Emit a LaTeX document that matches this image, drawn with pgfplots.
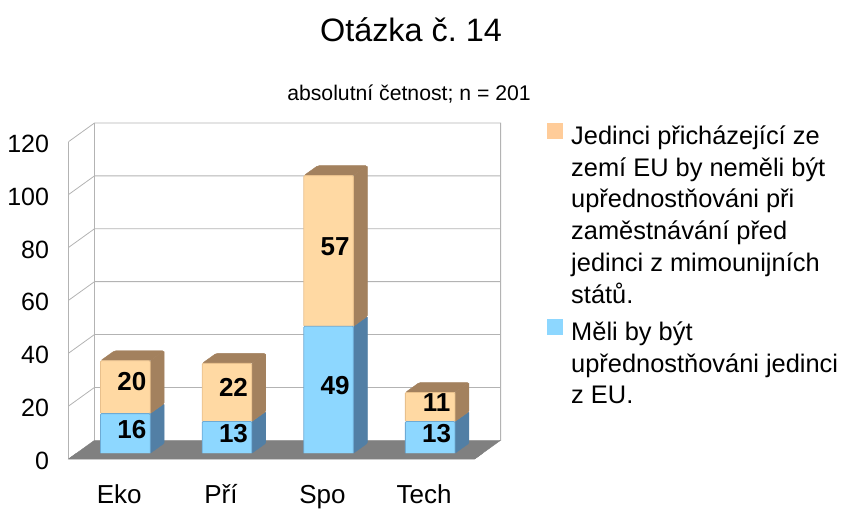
\documentclass[border=0pt]{standalone}
\usepackage{fontspec}
\setmainfont{Liberation Sans}
\usepackage{pgfplots}
\pgfplotsset{compat=1.18}
\frenchspacing
\definecolor{orF}{HTML}{FFD9A3}
\definecolor{orB}{HTML}{E8C08C}
\definecolor{orS}{HTML}{A3815E}
\definecolor{orL}{HTML}{FFCC99}
\definecolor{blF}{HTML}{8DD7FF}
\definecolor{blB}{HTML}{6DAAD4}
\definecolor{blS}{HTML}{527FA5}
\definecolor{gridc}{HTML}{B3B3B3}
\definecolor{floorc}{HTML}{808080}
\newcommand{\fs}[1]{\fontsize{#1pt}{#1pt}\selectfont}
\pgfplotsset{common/.style={
  at={(0pt,0pt)},anchor=south west,
  x=101.6pt,y=2.644pt,xmin=-0.5,xmax=3.753,
  axis line style={draw=none},clip=false,
  tick style={draw=none},xtick=\empty,ytick=\empty,
}}
% side face of one bar segment: category, low, high, colour
\newcommand{\seg}[5]{%
  \pgfmathsetmacro{\R}{#1+0.3035}%
  \pgfmathsetmacro{\Rb}{\R+0.138}%
  \pgfmathsetmacro{\lob}{#2+3.78}%
  \pgfmathsetmacro{\hib}{#3+3.78}%
  \addplot[fill=#4,draw=#4,line join=round,rounded corners=1pt] coordinates {(\R,#2)(\Rb,\lob)(\Rb,\hib)(\R,#3)} --cycle;
}
\newcommand{\topf}[3]{%
  \pgfmathsetmacro{\R}{#1+0.3035}%
  \pgfmathsetmacro{\Rb}{\R+0.138}%
  \pgfmathsetmacro{\Lf}{\R-0.488}%
  \pgfmathsetmacro{\Lb}{\Lf+0.138}%
  \pgfmathsetmacro{\hib}{#2+3.78}%
  \addplot[fill=#3,draw=#3,line join=round,rounded corners=1.5pt] coordinates {(\Lf,#2)(\Lb,\hib)(\Rb,\hib)(\R,#2)} --cycle;
}
\begin{document}
\begin{tikzpicture}
\path[use as bounding box] (-68.5pt,-49pt) rectangle (773.5pt,459pt);
% back wall, grid, floor
\begin{axis}[common,ymin=0,ymax=127.08]
\addplot[fill=floorc,draw=floorc] coordinates {(-0.5,0)(-0.244,7.08)(3.753,7.08)(3.497,0)} --cycle;
\addplot[gridc,line width=0.8pt] coordinates {(-0.5,120)(-0.244,127.08)(3.753,127.08)(3.753,7.08)};
\addplot[gridc,line width=0.8pt] coordinates {(-0.5,100)(-0.244,107.08)(3.753,107.08)};
\addplot[gridc,line width=0.8pt] coordinates {(-0.5,80)(-0.244,87.08)(3.753,87.08)};
\addplot[gridc,line width=0.8pt] coordinates {(-0.5,60)(-0.244,67.08)(3.753,67.08)};
\addplot[gridc,line width=0.8pt] coordinates {(-0.5,40)(-0.244,47.08)(3.753,47.08)};
\addplot[gridc,line width=0.8pt] coordinates {(-0.5,20)(-0.244,27.08)(3.753,27.08)};
\addplot[gridc,line width=0.8pt] coordinates {(-0.5,0)(-0.5,120)};
\addplot[gridc,line width=0.8pt] coordinates {(-0.244,7.08)(-0.244,127.08)};
\end{axis}
% sides and tops
\begin{axis}[common,ymin=-1.17,ymax=125.91]
\seg{0}{1}{16}{blS}{}\seg{0}{16}{36}{orS}{}\topf{0}{36}{orS}
\seg{1}{1}{13}{blS}{}\seg{1}{13}{35}{orS}{}\topf{1}{35}{orS}
\seg{2}{1}{49}{blS}{}\seg{2}{49}{106}{orS}{}\topf{2}{106}{orS}
\seg{3}{1}{13}{blS}{}\seg{3}{13}{24}{orS}{}\topf{3}{24}{orS}
\end{axis}
% bar fronts and legend
\begin{axis}[common,ymin=-1.17,ymax=125.91,ybar stacked,bar width=49.6pt,/pgf/bar shift=6.05pt,
  reverse legend,
  legend style={draw=none,fill=none,at={(axis cs:4.21,125.8)},anchor=north west,inner sep=0pt,
    font=\fontsize{25.4pt}{31.8pt}\selectfont,row sep=12.5pt,
    /tikz/column 1/.style={column sep=6pt},
    cells={anchor=north west,align=left}},
  legend image code/.code={\fill[#1,sharp corners,draw=none] (0pt,-16pt) rectangle (16pt,0pt);},
  ]
\addplot[fill=blF,draw=blB,line width=0.8pt,rounded corners=1pt] coordinates {(0,16)(1,13)(2,49)(3,13)};
\addlegendentry{Měli by být\\upřednostňováni jedinci\\z EU.}
\addplot[fill=orF,draw=orB,line width=0.8pt,rounded corners=1pt,legend image post style={fill=orL}] coordinates {(0,20)(1,22)(2,57)(3,11)};
\addlegendentry{Jedinci přicházející ze\\zemí EU by neměli být\\upřednostňováni při\\zaměstnávání před\\jedinci z mimounijních\\států.}
\end{axis}
% front strip of the floor, labels, ticks
\begin{axis}[common,ymin=0,ymax=127.08,
  /pgf/number format/assume math mode=true,
  xtick={0,1,2,3},xticklabels={Eko,Pří,Spo,Tech},
  ytick={0,20,40,60,80,100,120},
  yticklabel style={font=\fs{25},xshift=-16pt,yshift=-2pt},
  xticklabel style={font=\fs{26},anchor=base,yshift=-44pt},
  ]
\addplot[fill=floorc,draw=floorc] coordinates {(-0.5,0)(-0.422,2.16)(3.575,2.16)(3.497,0)} --cycle;
\addplot[only marks,mark=none,point meta=explicit symbolic,nodes near coords,
  nodes near coords style={anchor=center,font=\fs{26}\bfseries,inner sep=0pt}]
  coordinates {(0.124,11)[16](1.124,9.5)[13](2.124,27.6)[49](3.124,9.5)[13]
               (0.124,29.2)[20](1.124,27)[22](2.124,80.3)[57](3.124,21.4)[11]};
\end{axis}
\node[anchor=base,font=\fs{32.4}] at (342.5pt,417pt) {Otázka č. 14};
\node[anchor=base,font=\fs{21.2}] at (340.5pt,358pt) {absolutní četnost; n = 201};
\end{tikzpicture}
\end{document}
